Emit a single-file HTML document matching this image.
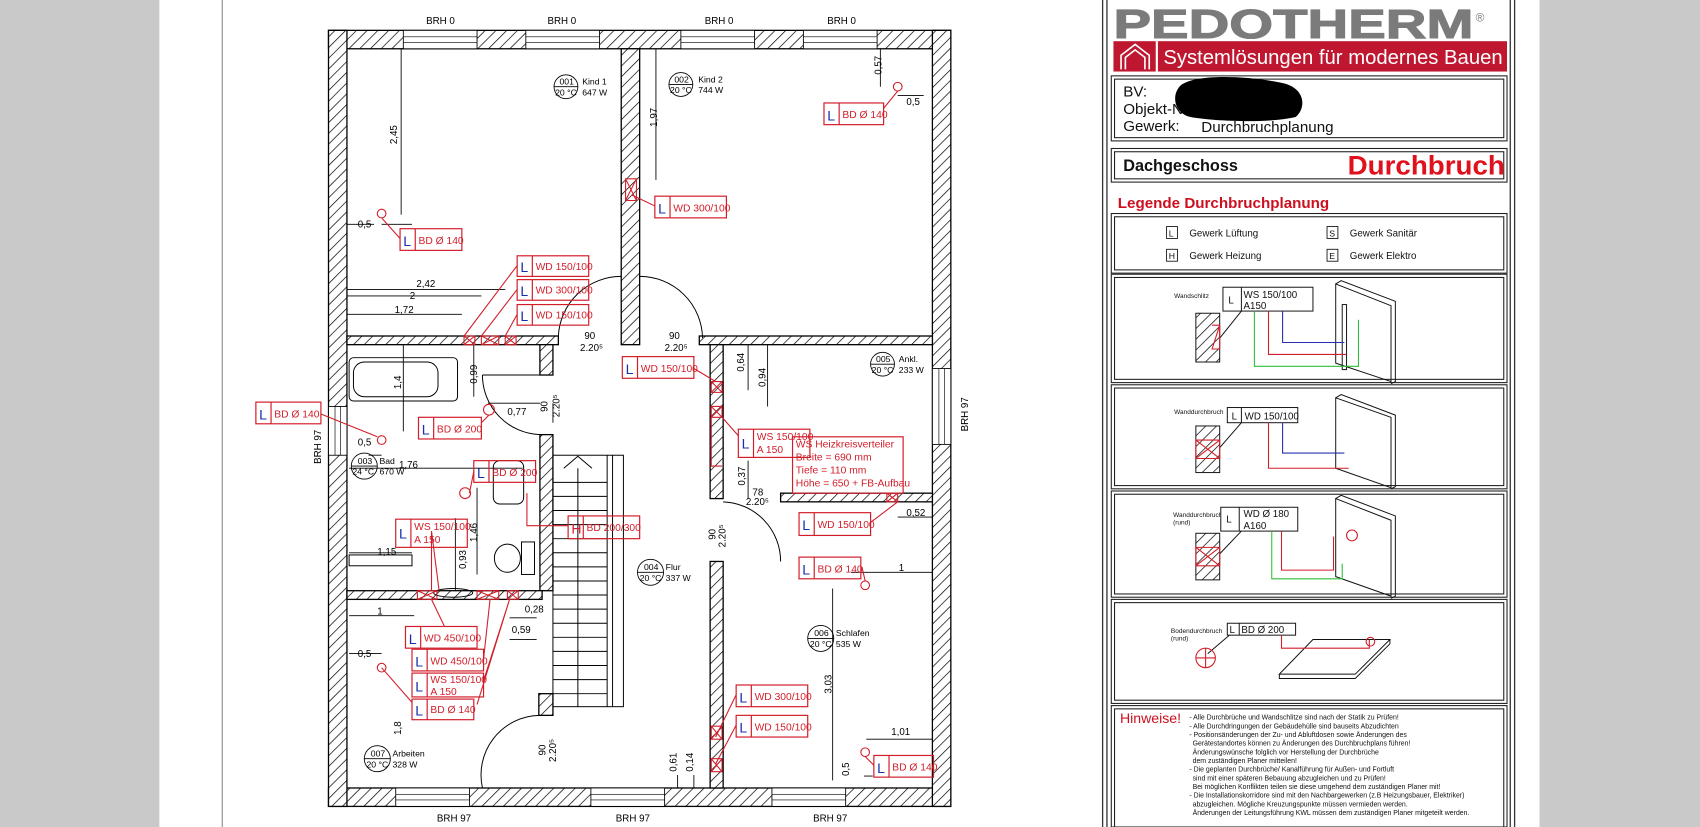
<!DOCTYPE html>
<html><head><meta charset="utf-8"><style>
html,body{margin:0;padding:0;background:#fff}
svg{display:block}
text{font-family:"Liberation Sans",sans-serif}
</style></head><body>
<svg width="1700" height="827" viewBox="0 0 1568 763" preserveAspectRatio="none" xmlns="http://www.w3.org/2000/svg">
<defs>
<pattern id="h" width="7" height="7" patternUnits="userSpaceOnUse" patternTransform="rotate(45)">
<rect width="7" height="7" fill="#fff"/><line x1="0" y1="0" x2="0" y2="7" stroke="#000" stroke-width="1.3"/></pattern>
</defs>
<rect x="0" y="0" width="147" height="763" fill="#c9c9c9"/>
<rect x="1420" y="0" width="148" height="763" fill="#c9c9c9"/>
<line x1="205" y1="0" x2="205" y2="763" stroke="#888" stroke-width="1"/>

<g stroke="#000" stroke-width="1.2" fill="url(#h)">
<rect x="303" y="28" width="574" height="17"/>
<rect x="303" y="727" width="574" height="17"/>
<rect x="303" y="28" width="17" height="716"/>
<rect x="860" y="28" width="17" height="716"/>
<rect x="573" y="45" width="17" height="273"/>
<rect x="320" y="310" width="195" height="8"/>
<rect x="645" y="310" width="215" height="8"/>
<rect x="498" y="318" width="12" height="28"/>
<rect x="498" y="401" width="12" height="144"/>
<rect x="320" y="545" width="180" height="8"/>
<rect x="655" y="318" width="12" height="142"/>
<rect x="655" y="518" width="12" height="209"/>
<rect x="720" y="455" width="140" height="8"/>
<rect x="497" y="640" width="13" height="20"/>
</g>
<g fill="#fff" stroke="#000" stroke-width="0.8">
<rect x="372" y="28" width="68" height="17"/><rect x="485" y="28" width="68" height="17"/>
<rect x="628" y="28" width="68" height="17"/><rect x="741" y="28" width="68" height="17"/>
<rect x="365" y="727" width="68" height="17"/><rect x="545" y="727" width="68" height="17"/>
<rect x="712" y="727" width="68" height="17"/>
<rect x="303" y="375" width="17" height="45"/><rect x="860" y="340" width="17" height="70"/>
</g>
<g stroke="#000" stroke-width="0.6">
<line x1="372" y1="34" x2="440" y2="34"/><line x1="372" y1="39" x2="440" y2="39"/>
<line x1="485" y1="34" x2="553" y2="34"/><line x1="485" y1="39" x2="553" y2="39"/>
<line x1="628" y1="34" x2="696" y2="34"/><line x1="628" y1="39" x2="696" y2="39"/>
<line x1="741" y1="34" x2="809" y2="34"/><line x1="741" y1="39" x2="809" y2="39"/>
<line x1="365" y1="733" x2="433" y2="733"/><line x1="365" y1="738" x2="433" y2="738"/>
<line x1="545" y1="733" x2="613" y2="733"/><line x1="545" y1="738" x2="613" y2="738"/>
<line x1="712" y1="733" x2="780" y2="733"/><line x1="712" y1="738" x2="780" y2="738"/>
<line x1="309" y1="375" x2="309" y2="420"/><line x1="314" y1="375" x2="314" y2="420"/>
<line x1="866" y1="340" x2="866" y2="410"/><line x1="871" y1="340" x2="871" y2="410"/>
</g>
<g fill="none" stroke="#000" stroke-width="0.9">
<path d="M573 255 A58 58 0 0 0 515 310"/>
<path d="M590 255 A58 58 0 0 1 648 312"/>
<path d="M445 346 A55 55 0 0 0 498 401"/>
<path d="M667 463 A55 55 0 0 1 720 518"/>
<path d="M445 727 A55 55 0 0 1 497 660"/>
<line x1="445" y1="346" x2="498" y2="346"/>
<rect x="510" y="420" width="65" height="232"/>
<line x1="560" y1="420" x2="560" y2="652"/><line x1="565" y1="420" x2="565" y2="652"/>
<path d="M520 432 L533 421 L546 432 M533 432 L533 652"/>
<path d="M510 445H560M510 458H560M510 471H560M510 484H560M510 497H560M510 510H560M510 523H560M510 536H560M510 549H560M510 562H560M510 575H560M510 588H560M510 601H560M510 614H560M510 627H560M510 640H560"/>
<rect x="322" y="330" width="100" height="40" rx="4"/>
<rect x="326" y="334" width="78" height="32" rx="10"/>
<rect x="322" y="512" width="58" height="10"/>
<rect x="455" y="425" width="28" height="40" rx="6"/>
<ellipse cx="468" cy="515" rx="12" ry="13"/>
<rect x="481" y="500" width="12" height="30"/>
<ellipse cx="418" cy="547" rx="18" ry="4"/>
</g>
<g stroke="#000" stroke-width="0.8" fill="none">
<path d="M370 45V198M352 207H380M320 207H345"/>
<path d="M605 45V166"/>
<path d="M812 45V80M828 88H852"/>
<path d="M320 267H466M320 273H444M320 290H426"/>
<path d="M372 318V398M437 318V366"/>
<path d="M340 420H352M322 432H482"/>
<path d="M450 372H498M510 372V390"/>
<path d="M322 510H380M440 450V530M420 478V545"/>
<path d="M322 568H382M470 570H495M470 590H495"/>
<path d="M322 603H352"/>
<path d="M690 318V360M708 318V375"/>
<path d="M690 425V460M828 477H860M785 528H860M768 543V720"/>
<path d="M799 682H860M797 716H805"/>
<path d="M625 715V727M640 715V727"/>
</g>
<g font-size="9" fill="#000">
<text x="330" y="210">0,5</text><text x="384" y="265">2,42</text><text x="378" y="276">2</text><text x="364" y="289">1,72</text>
<text x="468" y="383">0,77</text><text x="330" y="411">0,5</text><text x="368" y="432">1,76</text><text x="348" y="512">1,15</text>
<text x="348" y="567">1</text><text x="472" y="584">0,59</text><text x="484" y="565">0,28</text><text x="330" y="606">0,5</text>
<text x="836" y="97">0,5</text><text x="836" y="476">0,52</text><text x="829" y="527">1</text><text x="822" y="678">1,01</text>
<text x="539" y="313">90</text><text x="535" y="324">2.20⁵</text><text x="617" y="313">90</text><text x="613" y="324">2.20⁵</text>
<text x="694" y="457">78</text><text x="688" y="466">2.20⁵</text>
</g>
<g font-size="9" fill="#000">
<text transform="translate(366,133) rotate(-90)">2,45</text>
<text transform="translate(606,117) rotate(-90)">1,97</text>
<text transform="translate(813,69) rotate(-90)">0,57</text>
<text transform="translate(370,359) rotate(-90)">1,4</text>
<text transform="translate(440,354) rotate(-90)">0,99</text>
<text transform="translate(505,380) rotate(-90)">90</text>
<text transform="translate(516,385) rotate(-90)">2.20⁵</text>
<text transform="translate(440,500) rotate(-90)">1,46</text>
<text transform="translate(430,525) rotate(-90)">0,93</text>
<text transform="translate(686,343) rotate(-90)">0,64</text>
<text transform="translate(706,357) rotate(-90)">0,94</text>
<text transform="translate(687,448) rotate(-90)">0,37</text>
<text transform="translate(660,498) rotate(-90)">90</text><text transform="translate(669,505) rotate(-90)">2.20⁵</text>
<text transform="translate(767,640) rotate(-90)">3,03</text>
<text transform="translate(370,678) rotate(-90)">1,8</text>
<text transform="translate(503,697) rotate(-90)">90</text><text transform="translate(513,703) rotate(-90)">2.20⁵</text>
<text transform="translate(624,712) rotate(-90)">0,61</text>
<text transform="translate(639,712) rotate(-90)">0,14</text>
<text transform="translate(783,716) rotate(-90)">0,5</text>
</g>
<g font-size="9" fill="#000">
<text x="393" y="22">BRH 0</text><text x="505" y="22">BRH 0</text><text x="650" y="22">BRH 0</text><text x="763" y="22">BRH 0</text>
<text x="403" y="758">BRH 97</text><text x="568" y="758">BRH 97</text><text x="750" y="758">BRH 97</text>
<text transform="translate(296,428) rotate(-90)">BRH 97</text>
<text transform="translate(893,398) rotate(-90)">BRH 97</text>
</g>
<g font-size="8" fill="#000" stroke-width="0.8">
<g stroke="#000" fill="none">
<circle cx="522" cy="80" r="11"/><circle cx="628" cy="78" r="11"/><circle cx="814" cy="336" r="11"/>
<circle cx="336" cy="430" r="12"/><circle cx="600" cy="528" r="12"/><circle cx="757" cy="589" r="12"/><circle cx="348" cy="700" r="12"/>
<path d="M511 80H533M617 78H639M803 336H825M324 430H348M588 528H612M745 589H769M336 700H360"/>
</g>
<text x="516" y="78">001</text><text x="512" y="88">20 °C</text><text x="537" y="78">Kind 1</text><text x="537" y="88">647 W</text>
<text x="622" y="76">002</text><text x="618" y="86">20 °C</text><text x="644" y="76">Kind 2</text><text x="644" y="86">744 W</text>
<text x="808" y="334">005</text><text x="804" y="344">20 °C</text><text x="829" y="334">Ankl.</text><text x="829" y="344">233 W</text>
<text x="330" y="428">003</text><text x="325" y="438">24 °C</text><text x="350" y="428">Bad</text><text x="350" y="438">670 W</text>
<text x="594" y="526">004</text><text x="590" y="536">20 °C</text><text x="614" y="526">Flur</text><text x="614" y="536">337 W</text>
<text x="751" y="587">006</text><text x="747" y="597">20 °C</text><text x="771" y="587">Schlafen</text><text x="771" y="597">535 W</text>
<text x="342" y="698">007</text><text x="338" y="708">20 °C</text><text x="362" y="698">Arbeiten</text><text x="362" y="708">328 W</text>
</g>

<g stroke="#d21e2a" stroke-width="1" fill="none">
<circle cx="828" cy="80" r="4"/><circle cx="352" cy="197" r="4"/><circle cx="352" cy="406" r="4"/>
<circle cx="451" cy="378" r="5"/><circle cx="429" cy="455" r="5"/><circle cx="798" cy="540" r="4"/>
<circle cx="352" cy="616" r="4"/><circle cx="798" cy="694" r="4"/>
<path d="M577 165h10v20h-10zM577 165l10 20M587 165l-10 20"/>
<path d="M428 310h10v8h-10zM428 310l10 8M438 310l-10 8M444 310h16v8h-16zM444 310l16 8M460 310l-16 8M466 310h10v8h-10zM466 310l10 8M476 310l-10 8"/>
<path d="M656 352h10v10h-10zM656 352l10 10M666 352l-10 10M656 375h10v10h-10zM656 375l10 10M666 375l-10 10"/>
<path d="M656 385v45h10M818 455h10v8h-10zM818 455l10 8M828 455l-10 8"/>
<path d="M385 545h18v8h-18zM385 545l18 8M403 545l-18 8M440 545h20v8h-20zM440 545l20 8M460 545l-20 8M468 545h10v8h-10zM468 545l10 8M478 545l-10 8"/>
<path d="M656 670h10v12h-10zM656 670l10 12M666 670l-10 12M656 700h10v12h-10zM656 700l10 12M666 700l-10 12"/>
<path d="M828 84L815 100M352 201L369 220M583 180L604 190M428 310L477 245M444 310L477 267M466 310L477 290"/>
<path d="M296 382L348 403M444 390L451 383M433 455L437 435M640 340L660 352M666 385L681 402"/>
<path d="M398 490L405 545M398 490V545M486 455V485h38M828 463L803 482M798 536L795 523"/>
<path d="M398 553L410 578M452 553L446 608M470 553L446 628M470 553L440 650M352 616L380 648"/>
<path d="M660 680L679 641M660 705L679 669M798 698L806 706"/>
</g>

<g font-size="9.5" fill="#d21e2a">
<g fill="none" stroke="#d21e2a" stroke-width="1.1">
<rect x="760" y="95" width="55" height="20"/><path d="M774 95v20"/>
<rect x="604" y="181" width="66" height="20"/><path d="M618 181v20"/>
<rect x="369" y="211" width="57" height="20"/><path d="M383 211v20"/>
<rect x="477" y="236" width="66" height="19"/><path d="M491 236v19"/>
<rect x="477" y="258" width="66" height="19"/><path d="M491 258v19"/>
<rect x="477" y="281" width="66" height="19"/><path d="M491 281v19"/>
<rect x="574" y="329" width="66" height="20"/><path d="M588 329v20"/>
<rect x="236" y="371" width="60" height="20"/><path d="M250 371v20"/>
<rect x="386" y="385" width="58" height="20"/><path d="M400 385v20"/>
<rect x="681" y="396" width="66" height="26"/><path d="M695 396v26"/>
<rect x="731" y="403" width="102" height="52"/>
<rect x="437" y="425" width="57" height="20"/><path d="M451 425v20"/>
<rect x="365" y="479" width="66" height="26"/><path d="M379 479v26"/>
<rect x="524" y="476" width="66" height="21"/><path d="M538 476v21"/>
<rect x="737" y="473" width="66" height="21"/><path d="M751 473v21"/>
<rect x="737" y="514" width="57" height="20"/><path d="M751 514v20"/>
<rect x="374" y="578" width="66" height="20"/><path d="M388 578v20"/>
<rect x="380" y="599" width="66" height="20"/><path d="M394 599v20"/>
<rect x="380" y="621" width="66" height="22"/><path d="M394 621v22"/>
<rect x="380" y="645" width="57" height="19"/><path d="M394 645v19"/>
<rect x="679" y="632" width="66" height="20"/><path d="M693 632v20"/>
<rect x="679" y="660" width="66" height="20"/><path d="M693 660v20"/>
<rect x="806" y="697" width="55" height="20"/><path d="M820 697v20"/>
</g>
<g fill="#1a2fb0" font-size="13">
<text x="763" y="111">L</text><text x="607" y="197">L</text><text x="372" y="227">L</text>
<text x="480" y="251">L</text><text x="480" y="273">L</text><text x="480" y="296">L</text>
<text x="577" y="345">L</text><text x="239" y="387">L</text><text x="389" y="401">L</text>
<text x="684" y="414">L</text><text x="440" y="441">L</text><text x="368" y="497">L</text>
<text x="740" y="489">L</text><text x="740" y="530">L</text><text x="377" y="594">L</text>
<text x="383" y="615">L</text><text x="383" y="638">L</text><text x="383" y="660">L</text>
<text x="682" y="648">L</text><text x="682" y="676">L</text><text x="809" y="713">L</text>
</g>
<text x="527" y="492" font-size="13">H</text>
<text x="777" y="109">BD Ø 140</text><text x="621" y="195">WD 300/100</text><text x="386" y="225">BD Ø 140</text>
<text x="494" y="249">WD 150/100</text><text x="494" y="271">WD 300/100</text><text x="494" y="294">WD 150/100</text>
<text x="591" y="343">WD 150/100</text><text x="253" y="385">BD Ø 140</text><text x="403" y="399">BD Ø 200</text>
<text x="698" y="406">WS 150/100</text><text x="698" y="418">A 150</text>
<text x="734" y="413">WS Heizkreisverteiler</text><text x="734" y="425">Breite = 690 mm</text><text x="734" y="437">Tiefe = 110 mm</text><text x="734" y="449">Höhe = 650 + FB-Aufbau</text>
<text x="454" y="439">BD Ø 200</text><text x="382" y="489">WS 150/100</text><text x="382" y="501">A 150</text>
<text x="541" y="490">BD 200/300</text><text x="754" y="487">WD 150/100</text><text x="754" y="528">BD Ø 140</text>
<text x="391" y="592">WD 450/100</text><text x="397" y="613">WD 450/100</text>
<text x="397" y="630">WS 150/100</text><text x="397" y="641">A 150</text><text x="397" y="658">BD Ø 140</text>
<text x="696" y="646">WD 300/100</text><text x="696" y="674">WD 150/100</text><text x="823" y="711">BD Ø 140</text>
</g>

<g fill="none" stroke="#333" stroke-width="1.2">
<line x1="1017" y1="0" x2="1017" y2="763"/><line x1="1021" y1="0" x2="1021" y2="763"/>
<line x1="1393" y1="0" x2="1393" y2="763"/><line x1="1397" y1="0" x2="1397" y2="763"/>
</g>
<text x="1027" y="35" font-size="38" font-weight="bold" fill="#7b7b7b" stroke="#7b7b7b" stroke-width="1" textLength="332" lengthAdjust="spacingAndGlyphs">PEDOTHERM</text>
<text x="1361" y="20" font-size="11" fill="#7b7b7b">®</text>
<rect x="1027" y="38" width="363" height="28" fill="#bf1730"/>
<path d="M1034 64V51L1047 41L1060 51V64M1038 64V53L1047 46L1056 53V64" fill="none" stroke="#fff" stroke-width="1.5"/>
<line x1="1067" y1="38" x2="1067" y2="66" stroke="#fff" stroke-width="2"/>
<text x="1073" y="59" font-size="19" fill="#fff" textLength="313" lengthAdjust="spacingAndGlyphs">Systemlösungen für modernes Bauen</text>
<g fill="none" stroke="#222" stroke-width="1">
<rect x="1025" y="70" width="365" height="60"/><rect x="1028" y="73" width="359" height="54"/>
<rect x="1025" y="137" width="365" height="31"/><rect x="1028" y="140" width="359" height="25"/>
<rect x="1025" y="197" width="365" height="55"/><rect x="1028" y="200" width="359" height="49"/>
<rect x="1025" y="253" width="365" height="100"/><rect x="1028" y="256" width="359" height="94"/>
<rect x="1025" y="355" width="365" height="96"/><rect x="1028" y="358" width="359" height="90"/>
<rect x="1025" y="453" width="365" height="98"/><rect x="1028" y="456" width="359" height="92"/>
<rect x="1025" y="553" width="365" height="96"/><rect x="1028" y="556" width="359" height="90"/>
<rect x="1025" y="651" width="365" height="112"/><rect x="1028" y="654" width="359" height="112"/>
</g>
<g font-size="14" fill="#111">
<text x="1036" y="89">BV:</text><text x="1036" y="105">Objekt-Nr:</text><text x="1036" y="121">Gewerk:</text>
<text x="1108" y="122">Durchbruchplanung</text>
</g>
<path d="M1090 78C1105 68 1150 70 1180 76C1205 80 1205 100 1195 108C1170 114 1120 112 1098 108C1082 104 1080 86 1090 78Z" fill="#000"/>
<text x="1036" y="158" font-size="15" font-weight="bold" fill="#111">Dachgeschoss</text>
<text x="1243" y="161" font-size="25" font-weight="bold" fill="#e0101c" textLength="145" lengthAdjust="spacingAndGlyphs">Durchbruch</text>
<text x="1031" y="192" font-size="14" font-weight="bold" fill="#cc1020">Legende Durchbruchplanung</text>
<g font-size="9" fill="#111">
<g fill="none" stroke="#111" stroke-width="0.8">
<rect x="1076" y="209" width="10" height="11"/><rect x="1076" y="230" width="10" height="11"/>
<rect x="1224" y="209" width="10" height="11"/><rect x="1224" y="230" width="10" height="11"/>
</g>
<text x="1078" y="218" font-size="8">L</text><text x="1078" y="239" font-size="8">H</text>
<text x="1226" y="218" font-size="8">S</text><text x="1226" y="239" font-size="8">E</text>
<text x="1097" y="218">Gewerk Lüftung</text><text x="1097" y="239">Gewerk Heizung</text>
<text x="1245" y="218">Gewerk Sanitär</text><text x="1245" y="239">Gewerk Elektro</text>
</g>
<g font-size="6" fill="#111"><text x="1083" y="275">Wandschlitz</text><text x="1083" y="382">Wanddurchbruch</text>
<text x="1082" y="477">Wanddurchbruch</text><text x="1082" y="484">(rund)</text>
<text x="1080" y="584">Bodendurchbruch</text><text x="1080" y="591">(rund)</text></g>
<g stroke="#111" stroke-width="0.9" fill="none">
<rect x="1103" y="289" width="22" height="45" fill="url(#h)"/>
<rect x="1128" y="265" width="83" height="22" fill="#fff"/><path d="M1145 265v22M1125 312L1145 287"/>
<path d="M1232 262L1283 282V352L1232 335Z M1232 262l5-3 50 19v74l-4 2"/>
<rect x="1238" y="281" width="4" height="60"/>
<rect x="1103" y="393" width="22" height="43" fill="url(#h)"/>
<rect x="1132" y="376" width="65" height="14" fill="#fff"/><path d="M1145 376v14M1125 413L1145 390"/>
<path d="M1232 367L1283 385V450L1232 432Z M1232 367l5-3 50 19v66l-4 2"/>
<rect x="1103" y="492" width="22" height="43" fill="url(#h)"/>
<rect x="1126" y="468" width="71" height="22" fill="#fff"/><path d="M1143 468v22M1125 511L1145 490"/>
<path d="M1232 460L1283 480V550L1232 532Z M1232 460l5-3 50 19v74l-4 2"/>
<rect x="1132" y="575" width="63" height="11" fill="#fff"/><path d="M1143 575v11M1114 603L1134 586"/>
<path d="M1211 590H1282L1250 622H1180Z M1180 622v4h70l32-32v-4"/>
</g>
<g font-size="9" fill="#111">
<text x="1147" y="275">WS 150/100</text><text x="1147" y="285">A150</text><text x="1133" y="280">L</text>
<text x="1148" y="387">WD 150/100</text><text x="1136" y="387">L</text>
<text x="1147" y="477">WD Ø 180</text><text x="1147" y="488">A160</text><text x="1131" y="482">L</text>
<text x="1145" y="584">BD Ø 200</text><text x="1134" y="584">L</text>
</g>
<g fill="none" stroke-width="1">
<path d="M1125 300L1118 322H1125M1118 300H1125V322" stroke="#d21e2a"/>
<path d="M1103 406H1125V423H1103ZM1103 406L1125 423M1125 406L1103 423" stroke="#d21e2a"/>
<path d="M1103 505H1125V522H1103ZM1103 505L1125 522M1125 505L1103 522" stroke="#d21e2a"/>
<circle cx="1112" cy="607" r="9" stroke="#d21e2a"/><path d="M1103 607h18M1112 598v18" stroke="#d21e2a"/>
<path d="M1157 287V338H1253V295" stroke="#2fbf3a"/>
<path d="M1170 287V327H1242" stroke="#d21e2a"/>
<path d="M1183 287V316H1240" stroke="#2730b0"/>
<path d="M1170 390V432H1244" stroke="#d21e2a"/>
<path d="M1183 390V418H1240" stroke="#2730b0"/>
<path d="M1173 490V534H1238V520" stroke="#2fbf3a"/>
<path d="M1182 490V526H1230V495" stroke="#d21e2a"/>
<path d="M1182 586V598H1263V590" stroke="#d21e2a"/>
<circle cx="1247" cy="494" r="5" stroke="#d21e2a"/>
<circle cx="1264" cy="592" r="4" stroke="#d21e2a"/>
</g>
<text x="1033" y="667" font-size="13" fill="#cc1020">Hinweise!</text>
<g font-size="6.4" fill="#111">
<text x="1097" y="664">- Alle Durchbrüche und Wandschlitze sind nach der Statik zu Prüfen!</text>
<text x="1097" y="672">- Alle Durchdringungen der Gebäudehülle sind bauseits Abzudichten</text>
<text x="1097" y="680">- Positionsänderungen der Zu- und Abluftdosen sowie Änderungen des</text>
<text x="1100" y="688">Gerätestandortes können zu Änderungen des Durchbruchplans führen!</text>
<text x="1100" y="696">Änderungswünsche folglich vor Herstellung der Durchbrüche</text>
<text x="1100" y="704">dem zuständigen Planer mitteilen!</text>
<text x="1097" y="712">- Die geplanten Durchbrüche/ Kanalführung für Außen- und Fortluft</text>
<text x="1100" y="720">sind mit einer späteren Bebauung abzugleichen und zu Prüfen!</text>
<text x="1100" y="728">Bei möglichen Konflikten teilen sie diese umgehend dem zuständigen Planer mit!</text>
<text x="1097" y="736">- Die Installationskorridore sind mit den Nachbargewerken (z.B Heizungsbauer, Elektriker)</text>
<text x="1100" y="744">abzugleichen. Mögliche Kreuzungspunkte müssen vermieden werden.</text>
<text x="1100" y="752">Änderungen der Leitungsführung KWL müssen dem zuständigen Planer mitgeteilt werden.</text>
</g>
</svg>
</body></html>
